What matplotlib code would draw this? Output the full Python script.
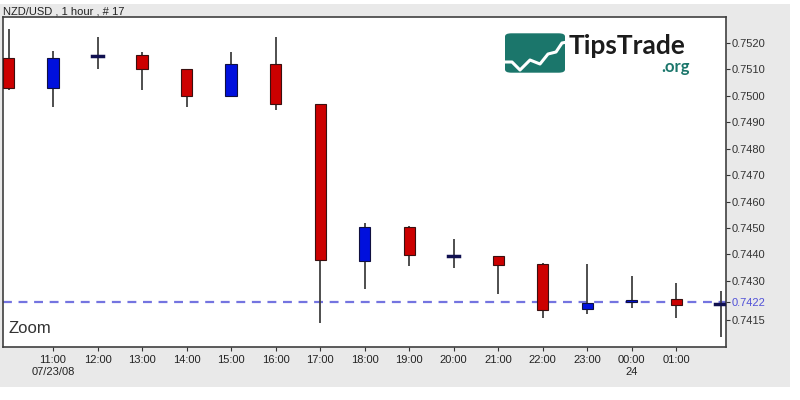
import matplotlib
matplotlib.use("Agg")
import matplotlib.pyplot as plt
from matplotlib.patches import Rectangle, FancyBboxPatch
import numpy as np

plt.rcParams['font.family'] = ['Liberation Sans', 'DejaVu Sans']

hours = ["10:00", "11:00", "12:00", "13:00", "14:00", "15:00", "16:00", "17:00", "18:00",
         "19:00", "20:00", "21:00", "22:00", "23:00", "00:00", "01:00", "02:00"]
opens = [0.75143, 0.75030, 0.75150, 0.75153, 0.75103, 0.75000, 0.75122, 0.74970, 0.74375,
         0.74502, 0.74394, 0.74394, 0.74363, 0.74192, 0.74220, 0.74231, 0.74213]
highs = [0.75253, 0.75171, 0.75223, 0.75166, 0.75103, 0.75166, 0.75223, 0.74970, 0.74520,
         0.74509, 0.74459, 0.74394, 0.74367, 0.74363, 0.74319, 0.74291, 0.74262]
lows = [0.75020, 0.74958, 0.75102, 0.75020, 0.74958, 0.75000, 0.74945, 0.74139, 0.74268,
        0.74356, 0.74348, 0.74250, 0.74158, 0.74173, 0.74196, 0.74158, 0.74089]
closes = [0.75030, 0.75143, 0.75153, 0.75103, 0.75000, 0.75122, 0.74970, 0.74377, 0.74502,
          0.74398, 0.74396, 0.74358, 0.74190, 0.74217, 0.74226, 0.74208, 0.74215]
x_tick_labels = ["11:00\n07/23/08", "12:00", "13:00", "14:00", "15:00", "16:00", "17:00",
                 "18:00", "19:00", "20:00", "21:00", "22:00", "23:00", "00:00\n24", "01:00"]
y_ticks = [0.7520, 0.7510, 0.7500, 0.7490, 0.7480, 0.7470, 0.7460, 0.7450, 0.7440, 0.7430, 0.7415]
last_price = 0.7422
title = "NZD/USD , 1 hour , # 17"

fig = plt.figure(figsize=(8, 4), dpi=100)
fig.patch.set_facecolor('white')
# gray panel background
fig.add_artist(Rectangle((0, 13.3 / 400), 790 / 800, 1 - 13.3 / 400 - 4 / 400,
                         transform=fig.transFigure, facecolor='#e9e9e9', edgecolor='none', zorder=0))

ax = fig.add_axes([3 / 800, 1 - 346.7 / 400, (726 - 3) / 800, (346.7 - 17) / 400])
ax.set_facecolor('white')
ax.set_zorder(1)

x = np.arange(len(hours))
w = 0.25
for i in range(len(hours)):
    o, h, l, c = opens[i], highs[i], lows[i], closes[i]
    ax.plot([x[i], x[i]], [l, h], color='#404040', lw=1.3, zorder=2, solid_capstyle='butt')
    diff = c - o
    if abs(diff) < 0.00004:
        ax.plot([x[i] - w / 2, x[i] + w / 2], [o, o], color='#101050', lw=2.5, zorder=3)
        continue
    fc = '#cc0000' if diff < 0 else '#0010dd'
    ax.add_patch(Rectangle((x[i] - w / 2, min(o, c)), w, abs(diff),
                           facecolor=fc, edgecolor='#3a1010' if diff < 0 else '#101040',
                           lw=0.8, zorder=3))

ax.axhline(last_price, color='#7474e0', lw=1.6, ls=(0, (4, 3)), zorder=1.5)

ax.set_xlim(-0.124, 16.12)
ax.set_ylim(0.740507, 0.75298)

ax.yaxis.tick_right()
ax.set_yticks(y_ticks + [last_price])
ylabels = [f"{v:.4f}" for v in y_ticks] + [f"{last_price:.4f}"]
ax.set_yticklabels(ylabels)
ax.tick_params(axis='y', direction='out', length=3, width=0.8, pad=1, labelsize=8, colors='#333333')
for lab, t in zip(ax.get_yticklabels(), ylabels):
    lab.set_color('#5050d8' if t == f"{last_price:.4f}" else '#333333')

ax.set_xticks(x[1:16])
ax.set_xticklabels(x_tick_labels)
ax.tick_params(axis='x', direction='out', length=3, width=0.8, pad=3, labelsize=8, colors='#333333')
for lab in ax.get_xticklabels():
    lab.set_color('#222222')
    lab.set_verticalalignment('top')

for s in ax.spines.values():
    s.set_color('#404040')
    s.set_linewidth(1.2)

ax.text(0.008, 0.055, "Zoom", transform=ax.transAxes, fontsize=12, color='#333333',
        ha='left', va='center')

fig.text(3 / 800, 1 - 11 / 400, title, fontsize=8, color='#222222', ha='left', va='center')

# watermark logo
logo = FancyBboxPatch((505 / 800, 1 - 72.7 / 400), 60 / 800, 39.4 / 400,
                      boxstyle="round,pad=0,rounding_size=0.008", transform=fig.transFigure,
                      facecolor='#1b766b', edgecolor='none', zorder=5)
fig.add_artist(logo)
zx = [505, 512, 520, 530, 540, 548, 556, 562, 567]
zy = [62, 62, 70, 60, 64, 54, 52, 43, 42]
fig.add_artist(plt.Line2D([v / 800 for v in zx], [1 - v / 400 for v in zy],
                          transform=fig.transFigure, color='white', lw=2.2, zorder=6))
fig.text(569 / 800, 1 - 54 / 400, "TipsTrade", fontsize=19, fontweight='bold',
         color='#1c1c1c', ha='left', va='baseline', family=['Lato', 'DejaVu Sans'], zorder=6)
fig.text(690 / 800, 1 - 72 / 400, ".org", fontsize=12, fontweight='bold',
         color='#1b766b', ha='right', va='baseline', family=['Lato', 'DejaVu Sans'], zorder=6)

fig.savefig("out.png", dpi=100, facecolor=fig.get_facecolor())
